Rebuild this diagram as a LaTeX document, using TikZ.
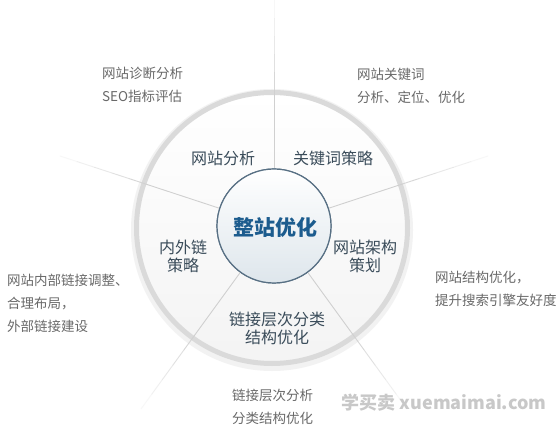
\documentclass[tikz,border=0pt]{standalone}
\usepackage{fontspec}
\setmainfont{Noto Sans CJK SC}
\usetikzlibrary{calc}

\definecolor{ringgray}{RGB}{218,218,218}
\definecolor{hubedge}{RGB}{88,112,132}
\definecolor{hubfill}{RGB}{222,230,236}
\definecolor{hubtext}{RGB}{28,92,142}
\definecolor{labeltext}{RGB}{58,76,90}
\definecolor{notetext}{RGB}{105,105,105}
\definecolor{spokegray}{RGB}{208,208,208}
\definecolor{marktext}{RGB}{200,200,200}

\tikzstyle{ring}=[circle,draw=ringgray,line width=5pt,top color=white,bottom color=gray!9,minimum size=271pt,inner sep=0pt]
\tikzstyle{hub}=[circle,draw=hubedge,line width=1.2pt,top color=white,bottom color=hubfill,minimum size=114pt,inner sep=0pt]
\tikzstyle{sector}=[text=labeltext,align=center,inner sep=0pt,font=\fontsize{16}{18}\selectfont]
\tikzstyle{note}=[text=notetext,align=left,anchor=west,inner sep=0pt,font=\fontsize{13.5}{23}\selectfont]
\tikzstyle{spoke}=[draw=spokegray,line width=0.9pt]
\tikzstyle{watermark}=[inner sep=0pt,text=marktext,font=\fontsize{18}{20}\selectfont\bfseries]

\begin{document}
\begin{tikzpicture}[x=1pt,y=1pt]

\fill[white] (0,0) rectangle (559,431);
\useasboundingbox (0,0) rectangle (559,431);

% ring and centre
\fill[gray!10] (272,201) circle (141);
\node[ring] (ring) at (272,203) {};
\node[hub] (hub) at (274,205) {};

\coordinate (e1) at (274,431);
\coordinate (e2) at (488,275);
\coordinate (e3) at (60,275);
\coordinate (e4) at (407,22);
\coordinate (e5) at (141,22);

% spokes, fading out past the ring
\foreach \a/\e in {90/e1,18/e2,162/e3,-54/e4,-126/e5}{
  \path[spoke] (hub.\a) -- ($(hub.center)!0.6!(\e)$);
  \foreach \s/\o in {0.6/0.85,0.68/0.65,0.76/0.48,0.84/0.32,0.92/0.16}
    \path[spoke,draw opacity=\o] ($(hub.center)!\s!(\e)$) -- ($(hub.center)!\s+0.08!(\e)$);
}

\node[hub] (hubtop) at (274,205) {};
\node[text=hubtext,font=\fontsize{21}{24}\selectfont\bfseries] (title) at (275,203) {整站优化};

% sectors
\node[sector] (analyse) at (223,273) {网站分析};
\node[sector] (keyword) at (333,273) {关键词策略};
\node[sector] (links) at (183,175) {内外链\\策略};
\node[sector] (frame) at (365,175) {网站架构\\策划};
\node[sector] (level) at (277,103) {链接层次分类\\结构优化};

% notes
\node[note] (n1) at (102,346) {网站诊断分析\\SEO指标评估};
\node[note] (n2) at (357,345) {网站关键词\\分析、定位、优化};
\node[note] (n3) at (7,128) {网站内部链接调整、\\合理布局，\\外部链接建设};
\node[note] (n4) at (435,142) {网站结构优化，\\提升搜索引擎友好度};
\node[note] (n5) at (232,24.5) {链接层次分析\\分类结构优化};

\node[watermark] (wm) at (444,28) {学买卖 xuemaimai.com};

\end{tikzpicture}
\end{document}
